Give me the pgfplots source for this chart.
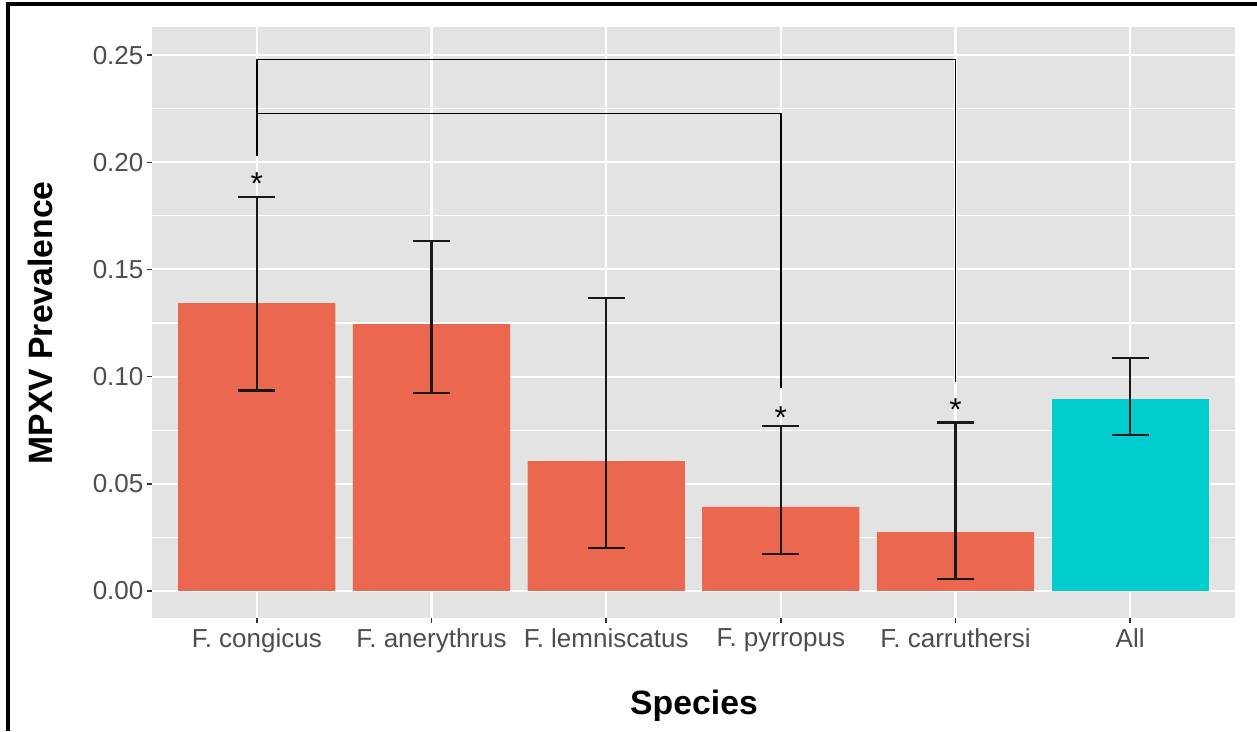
\documentclass[border=0pt]{standalone}
\usepackage{pgfplots}
\pgfplotsset{compat=1.18}
\usepackage{pgfplotstable}
\usepackage{fontspec}
\setmainfont{Liberation Sans}
\definecolor{panel}{HTML}{E3E3E3}
\definecolor{coral}{HTML}{EC6750}
\definecolor{cyanbar}{HTML}{00CDCD}
\definecolor{labgrey}{HTML}{4D4D4D}
\definecolor{tickgrey}{HTML}{333333}

\pgfplotstableread{
x y ep em
0 0.1343 0.0495 0.0408
1 0.1245 0.0387 0.0322
2 0.0606 0.0760 0.0406
3 0.0392 0.0378 0.0219
4 0.0274 0.0511 0.0219
5 0.0895 0.0192 0.0167
}\errdata

\begin{document}
\begin{tikzpicture}
\useasboundingbox (0,0) rectangle (12.57,7.31);
\draw[line width=0.9pt, black] (0.08,0) -- (0.08,7.27) -- (12.57,7.27);
\begin{axis}[
  at={(1.52cm,1.13cm)}, anchor=south west,
  width=10.83cm, height=5.91cm, scale only axis,
  xmin=-0.6, xmax=5.6,
  ymin=-0.0126, ymax=0.2631,
  axis background/.style={fill=panel},
  axis line style={draw=none},
  xtick={0,1,2,3,4,5},
  xticklabels={F. congicus, F. anerythrus, F. lemniscatus, F. pyrropus, F. carruthersi, All},
  ytick={0,0.05,0.1,0.15,0.2,0.25},
  minor ytick={0.025,0.075,0.125,0.175,0.225},
  tick label style={font=\fontsize{7.4}{8}\selectfont, text=labgrey},
  yticklabel style={xshift=2.5pt, /pgf/number format/.cd, fixed, fixed zerofill, precision=2, assume math mode=true},
  xticklabel style={yshift=2pt},
  tick align=outside, tick pos=left,
  major tick length=0.05cm, minor tick length=0pt,
  major tick style={tickgrey, line width=0.4pt},
  xmajorgrids, ymajorgrids, yminorgrids,
  major grid style={white, line width=0.6pt},
  minor grid style={white, line width=0.3pt},
  bar width=0.9, bar shift=0pt,
  clip=false,
]
\addplot[ybar, fill=coral, draw=none] coordinates {(0,0.1343) (1,0.1245) (2,0.0606) (3,0.0392) (4,0.0274)};
\addplot[ybar, fill=cyanbar, draw=none] coordinates {(5,0.0895)};
\addplot[draw=none, mark=none, forget plot,
  error bars/.cd, y dir=both, y explicit,
  error bar style={line width=0.7pt, black!90},
  error mark options={black!90, line width=0.7pt, mark size=5.3pt, rotate=90}]
  table[x=x, y=y, y error plus=ep, y error minus=em] {\errdata};
\addplot[black, line width=0.45pt, mark=none] coordinates {(0,0.2030) (0,0.2480) (4,0.2480) (4,0.0976)};
\addplot[black, line width=0.45pt, mark=none] coordinates {(0,0.2228) (3,0.2228) (3,0.0947)};
\addplot[draw=none, mark=none, nodes near coords={\fontsize{9}{9}\selectfont *},
  nodes near coords style={anchor=center, inner sep=0pt, yshift=-1.9pt, text=black}]
  coordinates {(0,0.1932) (3,0.0841) (4,0.0875)};
\end{axis}
\node[anchor=base, font=\fontsize{9.6}{11}\selectfont\bfseries] at (6.94,0.16) {Species};
\node[anchor=base, rotate=90, font=\fontsize{9.6}{11}\selectfont\bfseries] at (0.52,4.08) {MPXV Prevalence};
\end{tikzpicture}
\end{document}
